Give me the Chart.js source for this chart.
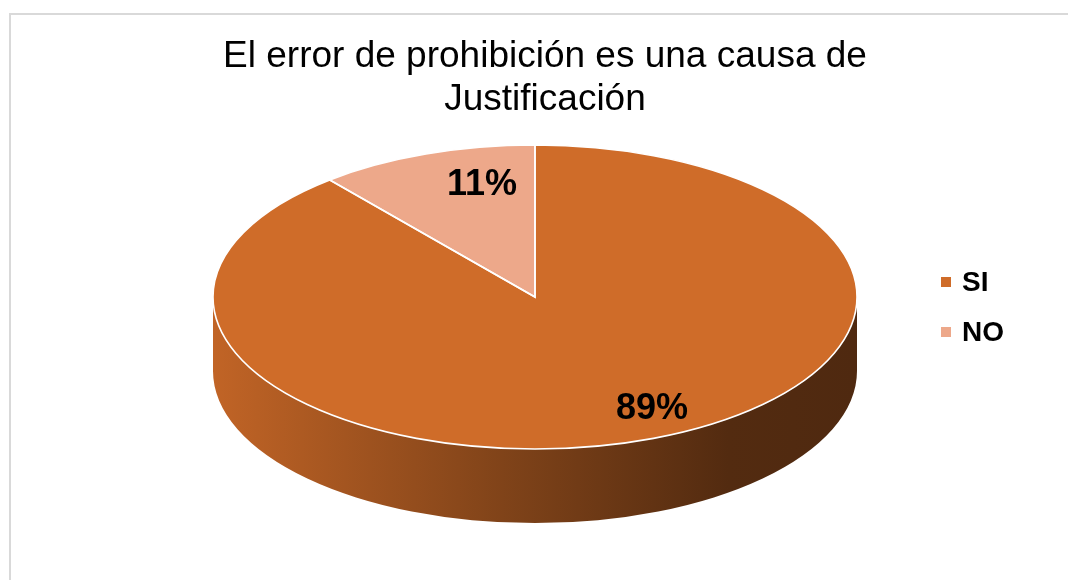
<!DOCTYPE html>
<html>
<head>
<meta charset="utf-8">
<title>Error de prohibición</title>
<script src="https://cdn.jsdelivr.net/npm/chart.js@4.4.0/dist/chart.umd.min.js"></script>
<style>
  html, body { margin: 0; padding: 0; background: #fff; overflow: hidden; }
  #wrap { position: relative; width: 1068px; height: 580px; overflow: hidden; }
  #frame {
    position: absolute; left: 9px; top: 13px; width: 1120px; height: 620px;
    border: 2px solid #d9d9d9; box-sizing: border-box;
  }
  #chart { position: absolute; left: 0; top: 0; }
  #legend {
    position: absolute; left: 941px; top: 268px;
    font-family: "Liberation Sans", Arial, sans-serif; font-weight: bold;
    font-size: 28px; line-height: 28px; color: #000;
  }
  .item { display: flex; align-items: center; height: 28px; margin-bottom: 22px; }
  .box { width: 10px; height: 10px; margin-right: 11px; }
</style>
</head>
<body>
<div id="wrap">
  <div id="frame"></div>
  <canvas id="chart" width="1068" height="580"></canvas>
  <div id="legend"></div>
</div>
<script>
// chart data
const titleLines = ['El error de prohibición es una causa de', 'Justificación'];
const labels = ['SI', 'NO'];
const values = [89, 11];
const colors = ['#cf6c29', '#eda88a'];

const FONT = '"Liberation Sans", Arial, sans-serif';

// darken a hex colour by a factor
function shade(hex, f) {
    const n = parseInt(hex.slice(1), 16);
    const r = Math.round(((n >> 16) & 255) * f);
    const g = Math.round(((n >> 8) & 255) * f);
    const b = Math.round((n & 255) * f);
    return `rgb(${r},${g},${b})`;
}

// Fake 3D look: squash the library's arcs into an ellipse and add a front wall
const pie3d = {
    id: 'pie3d',
    beforeDatasetsDraw(chart, args, opts) {
        const arcs = chart.getDatasetMeta(0).data;
        if (!arcs.length) return;
        const a0 = arcs[0];
        const r = a0.outerRadius;
        const g = {
            ox: a0.x, oy: a0.y,
            cx: a0.x + opts.offsetX, cy: a0.y,
            rx: opts.rx, ry: opts.ry,
            sx: opts.rx / r, sy: opts.ry / r
        };
        chart.$pie3d = g;
        const ctx = chart.ctx;

        // front wall of each slice (visible half is angle 0..PI)
        arcs.forEach((arc, i) => {
            const base = chart.data.datasets[0].backgroundColor[i];
            for (let k = -1; k <= 1; k++) {
                const s = Math.max(arc.startAngle, 2 * Math.PI * k);
                const e = Math.min(arc.endAngle, Math.PI + 2 * Math.PI * k);
                if (s >= e) continue;
                const grad = ctx.createLinearGradient(g.cx - g.rx, 0, g.cx + g.rx, 0);
                grad.addColorStop(0, shade(base, 0.93));
                grad.addColorStop(0.45, shade(base, 0.62));
                grad.addColorStop(0.8, shade(base, 0.40));
                grad.addColorStop(1, shade(base, 0.38));
                ctx.beginPath();
                ctx.ellipse(g.cx, g.cy, g.rx, g.ry, 0, s, e);
                ctx.ellipse(g.cx, g.cy + opts.depth, g.rx, g.ry, 0, e, s, true);
                ctx.closePath();
                ctx.fillStyle = grad;
                ctx.fill();
            }
        });

        ctx.save();
        ctx.translate(g.cx, g.cy);
        ctx.scale(g.sx, g.sy);
        ctx.translate(-g.ox, -g.oy);
    },
    afterDatasetsDraw(chart, args, opts) {
        const g = chart.$pie3d;
        if (!g) return;
        const ctx = chart.ctx;
        ctx.restore();
        const arcs = chart.getDatasetMeta(0).data;
        const data = chart.data.datasets[0].data;
        const total = data.reduce((s, v) => s + v, 0);

        // white slice edges
        ctx.save();
        ctx.strokeStyle = '#ffffff';
        ctx.lineWidth = 1.6;
        arcs.forEach(arc => {
            ctx.beginPath();
            ctx.moveTo(g.cx, g.cy);
            ctx.ellipse(g.cx, g.cy, g.rx, g.ry, 0, arc.startAngle, arc.endAngle);
            ctx.closePath();
            ctx.stroke();
        });

        // percentage labels
        ctx.fillStyle = '#000';
        ctx.font = `bold 36px ${FONT}`;
        ctx.textAlign = 'center';
        ctx.textBaseline = 'middle';
        arcs.forEach((arc, i) => {
            const mid = (arc.startAngle + arc.endAngle) / 2;
            const x = g.cx + g.rx * opts.labelPos * Math.cos(mid) + opts.labelShiftX;
            const y = g.cy + g.ry * opts.labelPos * Math.sin(mid);
            ctx.fillText(Math.round(data[i] / total * 100) + '%', x, y);
        });
        ctx.restore();
    }
};

new Chart(document.getElementById('chart'), {
    type: 'pie',
    data: {
        labels: labels,
        datasets: [{
            data: values,
            backgroundColor: colors,
            borderWidth: 0
        }]
    },
    options: {
        responsive: false,
        animation: false,
        layout: { padding: { left: 22, right: 0, top: 0, bottom: 117 } },
        plugins: {
            legend: { display: false },
            tooltip: { enabled: false },
            title: {
                display: true,
                text: titleLines,
                color: '#000',
                font: { family: FONT, size: 37, weight: 'normal', lineHeight: 1.15 },
                padding: { top: 36, bottom: 10 }
            },
            pie3d: { rx: 322, ry: 152, depth: 74, offsetX: -10, labelPos: 0.78, labelShiftX: 32 }
        }
    },
    plugins: [pie3d]
});

// legend
const legend = document.getElementById('legend');
labels.forEach((lab, i) => {
    const row = document.createElement('div');
    row.className = 'item';
    row.innerHTML = `<span class="box" style="background:${colors[i]}"></span><span>${lab}</span>`;
    legend.appendChild(row);
});
</script>
</body>
</html>
